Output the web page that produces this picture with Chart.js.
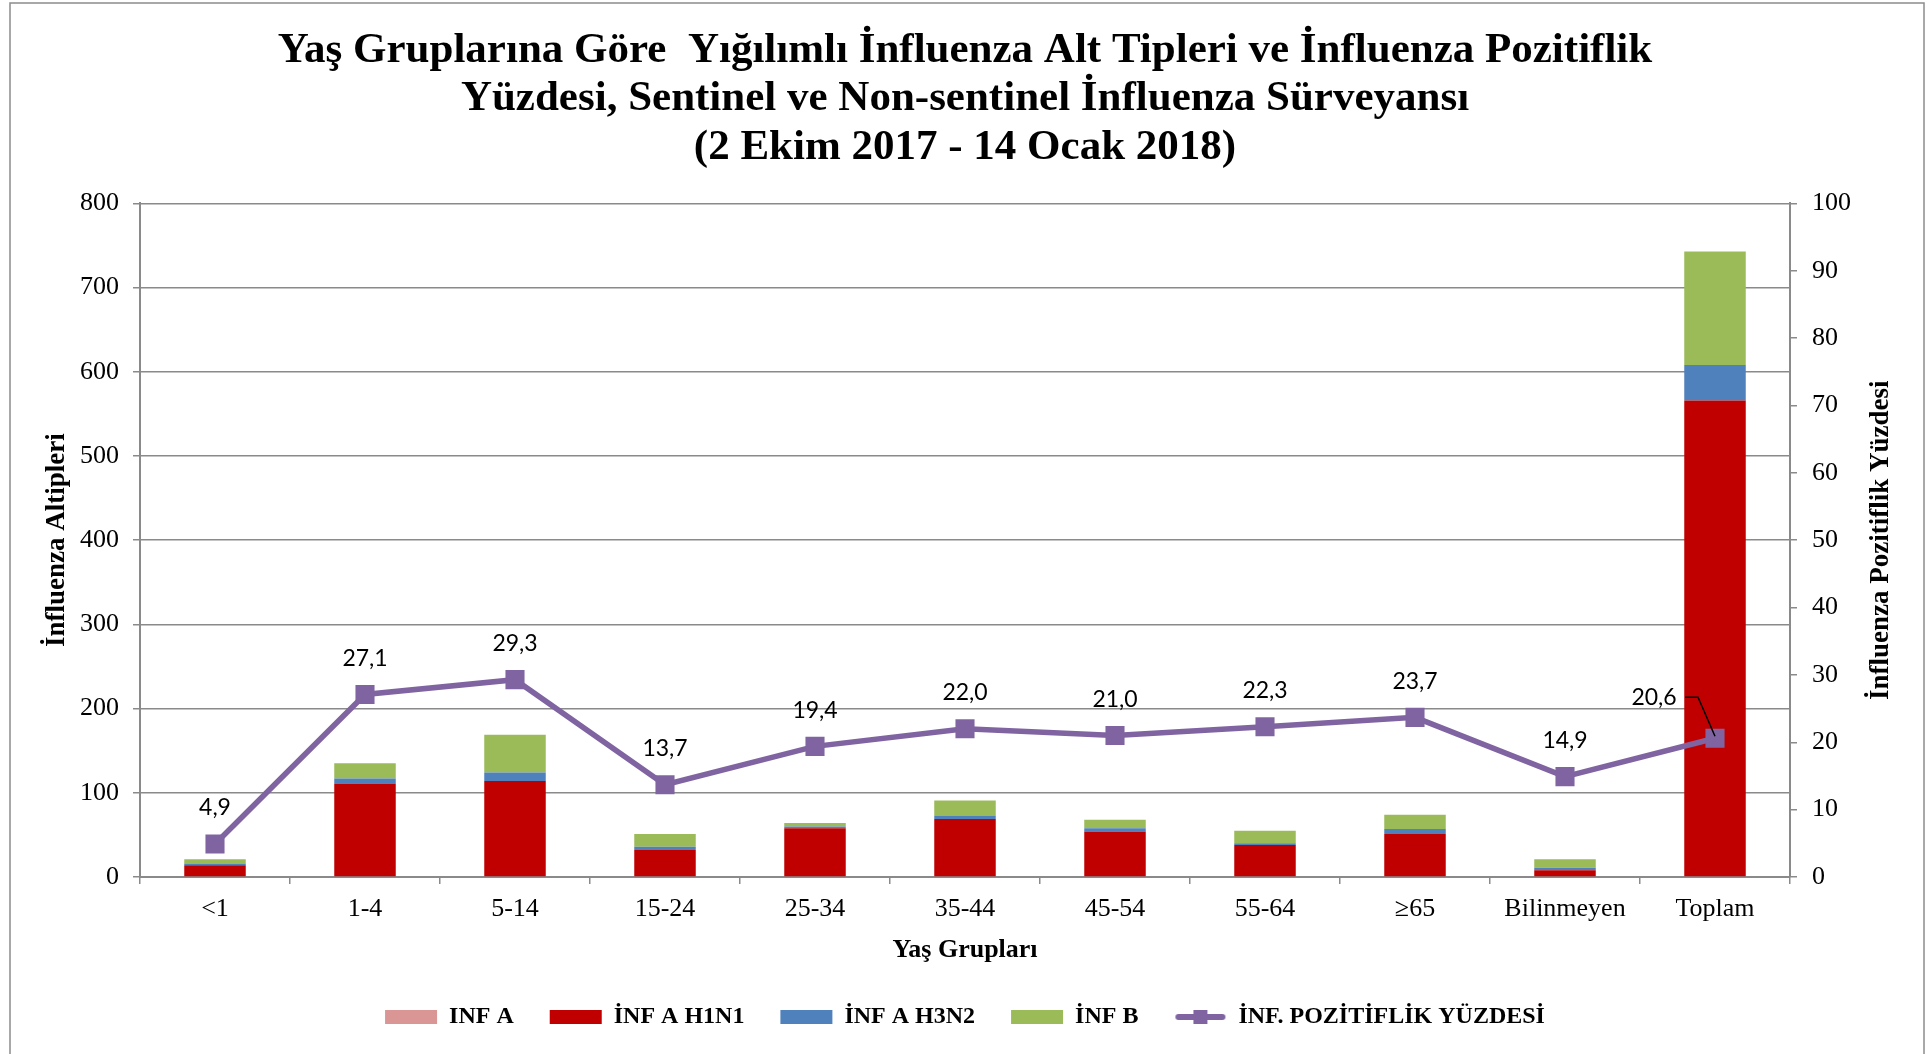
<!DOCTYPE html>
<html lang="tr">
<head>
<meta charset="utf-8">
<title>Yaş Gruplarına Göre Yığılımlı İnfluenza Alt Tipleri</title>
<script src="https://cdn.jsdelivr.net/npm/chart.js@4/dist/chart.umd.min.js"></script>
<style>
  html, body { margin: 0; padding: 0; background: #fff; }
  #wrap { width: 1930px; height: 1054px; position: relative; }
</style>
</head>
<body>
<div id="wrap"><canvas id="influenzaChart" width="1930" height="1054"></canvas></div>
<script>
// Data
const ageGroups = ['<1', '1-4', '5-14', '15-24', '25-34', '35-44', '45-54', '55-64', '≥65', 'Bilinmeyen', 'Toplam'];
const infA     = [0, 0, 0, 0, 0, 0, 0, 0, 0, 0, 0];
const infAH1N1 = [14, 111, 114, 32, 58, 69, 54, 38, 51, 8, 566];
const infAH3N2 = [2, 6, 10, 4, 2, 4, 4, 2, 6, 3, 42];
const infB     = [5, 18, 45, 15, 4, 18, 10, 15, 17, 10, 135];
const positivePct = [4.9, 27.1, 29.3, 13.7, 19.4, 22.0, 21.0, 22.3, 23.7, 14.9, 20.6];

const leftTicks = { min: 0, max: 800, step: 100 };
const rightTicks = { min: 0, max: 100, step: 10 };

const serif = "'Liberation Serif', 'Times New Roman', serif";
const gridGray = '#8a8a8a';
const lineColor = '#8064A2';

// Legend symbol for the line series: a thick line with a square marker
function makeLineSymbol() {
  const c = document.createElement('canvas');
  c.width = 52; c.height = 16;
  const g = c.getContext('2d');
  g.strokeStyle = lineColor;
  g.lineWidth = 6;
  g.lineCap = 'round';
  g.beginPath(); g.moveTo(4, 8); g.lineTo(48, 8); g.stroke();
  g.fillStyle = lineColor;
  g.fillRect(19, 1, 14, 14);
  return c;
}
const lineSymbol = makeLineSymbol();

// Value labels above the line points (comma decimals), with a callout on the last one
const pointLabels = {
  id: 'pointLabels',
  afterDatasetsDraw(chart) {
    const idx = chart.data.datasets.findIndex(d => d.type === 'line');
    const meta = chart.getDatasetMeta(idx);
    const ctx = chart.ctx;
    ctx.save();
    ctx.font = "23px Lato, 'Open Sans', sans-serif";
    ctx.fillStyle = '#000';
    ctx.textAlign = 'center';
    ctx.textBaseline = 'middle';
    meta.data.forEach((pt, i) => {
      const txt = positivePct[i].toFixed(1).replace('.', ',');
      if (i === meta.data.length - 1) {
        const lx = pt.x - 61, ly = pt.y - 41;
        ctx.fillText(txt, lx, ly);
        ctx.strokeStyle = '#000';
        ctx.lineWidth = 1.5;
        ctx.beginPath();
        ctx.moveTo(lx + 31, ly);
        ctx.lineTo(lx + 44, ly);
        ctx.lineTo(pt.x, pt.y - 2);
        ctx.stroke();
      } else {
        ctx.fillText(txt, pt.x, pt.y - 36);
      }
    });
    ctx.restore();
  }
};

// Background, outer frame and right axis title (reads bottom-to-top)
const frameAndTitles = {
  id: 'frameAndTitles',
  beforeDraw(chart) {
    const ctx = chart.ctx;
    ctx.save();
    ctx.fillStyle = '#fff';
    ctx.fillRect(0, 0, chart.width, chart.height);
    ctx.restore();
  },
  afterDraw(chart) {
    const ctx = chart.ctx;
    const area = chart.chartArea;
    ctx.save();
    ctx.strokeStyle = '#8c8c8c';
    ctx.lineWidth = 1.5;
    ctx.strokeRect(10, 3, 1914, 1060);
    ctx.translate(area.right + 91, (area.top + area.bottom) / 2);
    ctx.rotate(-Math.PI / 2);
    ctx.font = 'bold 27px ' + serif;
    ctx.fillStyle = '#000';
    ctx.textAlign = 'center';
    ctx.textBaseline = 'middle';
    ctx.fillText('İnfluenza Pozitiflik Yüzdesi', 0, 0);
    ctx.restore();
  }
};

const ctx = document.getElementById('influenzaChart');
new Chart(ctx, {
  data: {
    labels: ageGroups,
    datasets: [
      { type: 'bar', label: 'INF A', data: infA, backgroundColor: '#D99694', yAxisID: 'y', order: 1 },
      { type: 'bar', label: 'İNF A H1N1', data: infAH1N1, backgroundColor: '#C00000', yAxisID: 'y', order: 1 },
      { type: 'bar', label: 'İNF A H3N2', data: infAH3N2, backgroundColor: '#4F81BD', yAxisID: 'y', order: 1 },
      { type: 'bar', label: 'İNF B', data: infB, backgroundColor: '#9BBB59', yAxisID: 'y', order: 1 },
      {
        type: 'line',
        label: 'İNF. POZİTİFLİK YÜZDESİ',
        data: positivePct,
        yAxisID: 'y1',
        borderColor: lineColor,
        backgroundColor: lineColor,
        borderWidth: 5.5,
        pointStyle: 'rect',
        pointRadius: 13.5,
        pointHoverRadius: 13.5,
        pointBackgroundColor: lineColor,
        pointBorderWidth: 0,
        tension: 0,
        order: 0
      }
    ]
  },
  options: {
    responsive: false,
    animation: false,
    layout: { padding: { bottom: 15 } },
    datasets: {
      bar: { barPercentage: 0.41, categoryPercentage: 1 }
    },
    plugins: {
      title: {
        display: true,
        text: [
          'Yaş Gruplarına Göre  Yığılımlı İnfluenza Alt Tipleri ve İnfluenza Pozitiflik',
          'Yüzdesi, Sentinel ve Non-sentinel İnfluenza Sürveyansı',
          '(2 Ekim 2017 - 14 Ocak 2018)'
        ],
        color: '#000',
        font: { family: serif, size: 43, weight: 'bold', lineHeight: 1.12 },
        padding: { top: 27, bottom: 32 }
      },
      legend: {
        position: 'bottom',
        labels: {
          color: '#000',
          font: { family: serif, size: 24, weight: 'bold' },
          usePointStyle: true,
          pointStyleWidth: 52,
          boxHeight: 14,
          padding: 36,
          sort: (a, b) => a.datasetIndex - b.datasetIndex,
          generateLabels(chart) {
            const items = Chart.defaults.plugins.legend.labels.generateLabels(chart);
            return items.map(item => {
              const ds = chart.data.datasets[item.datasetIndex];
              if (ds.type === 'line') {
                item.pointStyle = lineSymbol;
              } else {
                item.pointStyle = 'rect';
                item.lineWidth = 0;
              }
              return item;
            });
          }
        }
      },
      tooltip: { enabled: false }
    },
    scales: {
      x: {
        stacked: true,
        afterFit: (scale) => { scale.height = 92; },
        grid: {
          offset: true,
          drawOnChartArea: false,
          color: gridGray,
          lineWidth: 1.5,
          tickLength: 7
        },
        border: { color: gridGray, width: 2 },
        ticks: { color: '#000', font: { family: serif, size: 26 }, padding: 10, maxRotation: 0 },
        title: {
          display: true,
          text: 'Yaş Grupları',
          color: '#000',
          font: { family: serif, size: 26, weight: 'bold', lineHeight: 1 },
          padding: { top: 4, bottom: 6 }
        }
      },
      y: {
        stacked: true,
        position: 'left',
        min: leftTicks.min,
        max: leftTicks.max,
        afterFit: (scale) => { scale.width = 140; },
        grid: { color: gridGray, lineWidth: 1.5, tickLength: 7 },
        border: { color: gridGray, width: 2 },
        ticks: { stepSize: leftTicks.step, color: '#000', font: { family: serif, size: 26 }, padding: 14 },
        title: {
          display: true,
          text: 'İnfluenza Altipleri',
          color: '#000',
          font: { family: serif, size: 27, weight: 'bold', lineHeight: 1 },
          padding: { top: 44, bottom: 4 }
        }
      },
      y1: {
        position: 'right',
        min: rightTicks.min,
        max: rightTicks.max,
        afterFit: (scale) => { scale.width = 140; },
        grid: { drawOnChartArea: false, color: gridGray, lineWidth: 1.5, tickLength: 7 },
        border: { color: gridGray, width: 2 },
        ticks: { stepSize: rightTicks.step, color: '#000', font: { family: serif, size: 26 }, padding: 15 }
      }
    }
  },
  plugins: [frameAndTitles, pointLabels]
});
</script>
</body>
</html>
